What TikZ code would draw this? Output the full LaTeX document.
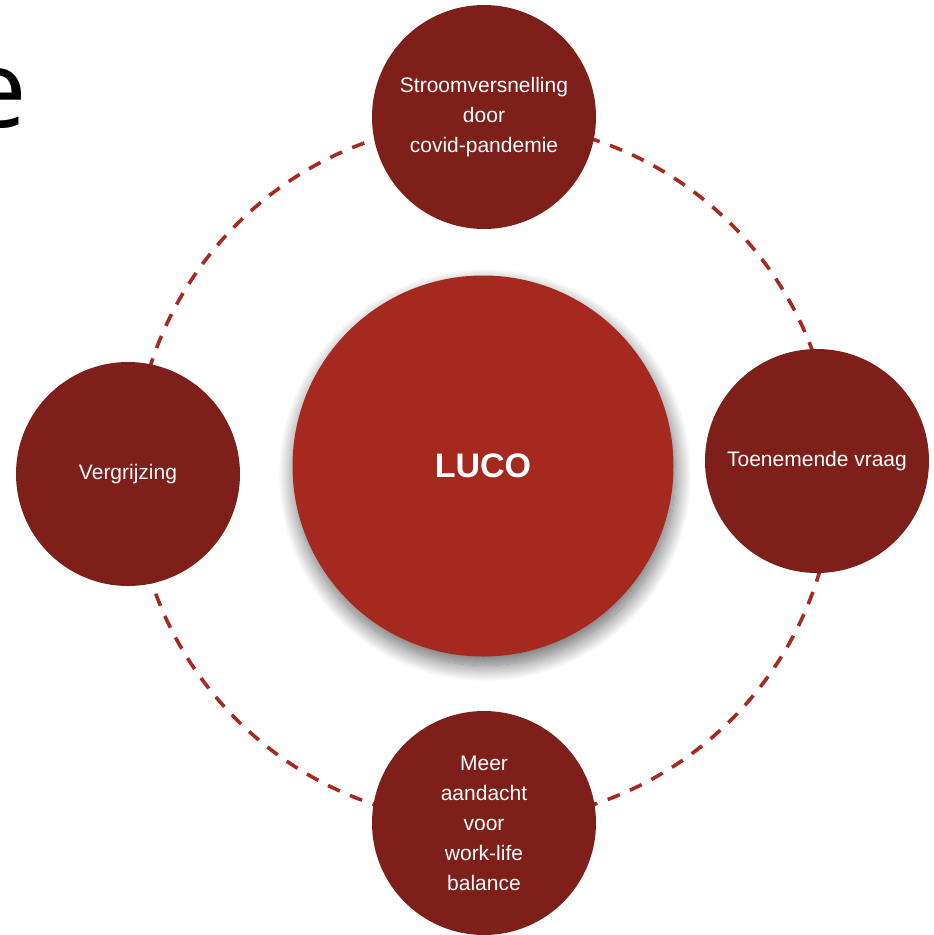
\documentclass[tikz,border=0pt]{standalone}
\usepackage{fontspec}
\setmainfont{Liberation Sans}
\newfontfamily\headfont{Open Sans}
\usetikzlibrary{shadows.blur}

\definecolor{ringred}{HTML}{A8291F}
\definecolor{coreRed}{HTML}{A5291F}
\definecolor{satRed}{HTML}{7F1F1A}

\tikzset{
  driver/.style={circle, fill=satRed, minimum size=224pt, inner sep=0pt,
    text=white, align=center, font=\fontsize{21}{30}\selectfont},
  core/.style={circle, fill=coreRed, minimum size=381pt, inner sep=0pt,
    text=white, font=\fontsize{34}{40}\selectfont\bfseries,
    blur shadow={shadow xshift=2pt, shadow yshift=-9pt,
                 shadow blur radius=16pt, shadow blur steps=24,
                 shadow opacity=60}},
  ring/.style={draw=ringred, line width=3.6pt,
    dash pattern=on 13pt off 11pt},
}

\begin{document}
\begin{tikzpicture}[x=1pt, y=-1pt]
  \useasboundingbox (0,0) rectangle (934,935);
  \clip (0,0) rectangle (934,935);

  % edge of the heading, cut off on the left
  \node[anchor=base east, inner sep=0pt, font=\headfont\fontsize{108}{110}\selectfont]
    (heading) at (27,127) {e};

  % dashed cycle behind the driver circles
  \coordinate (hub) at (484,472);
  \draw[ring] (hub) circle[radius=350pt];

  % central topic
  \node[core] (luco) at (483,466) {LUCO};

  % surrounding drivers
  \node[driver] (covid) at (484,117) {Stroomversnelling\\door\\covid-pandemie};
  \node[driver] (vraag) at (817,461) {Toenemende vraag};
  \node[driver] (balans) at (484,823) {Meer\\aandacht\\voor\\work-life\\balance};
  \node[driver] (grijs) at (128,474) {Vergrijzing};
\end{tikzpicture}
\end{document}
